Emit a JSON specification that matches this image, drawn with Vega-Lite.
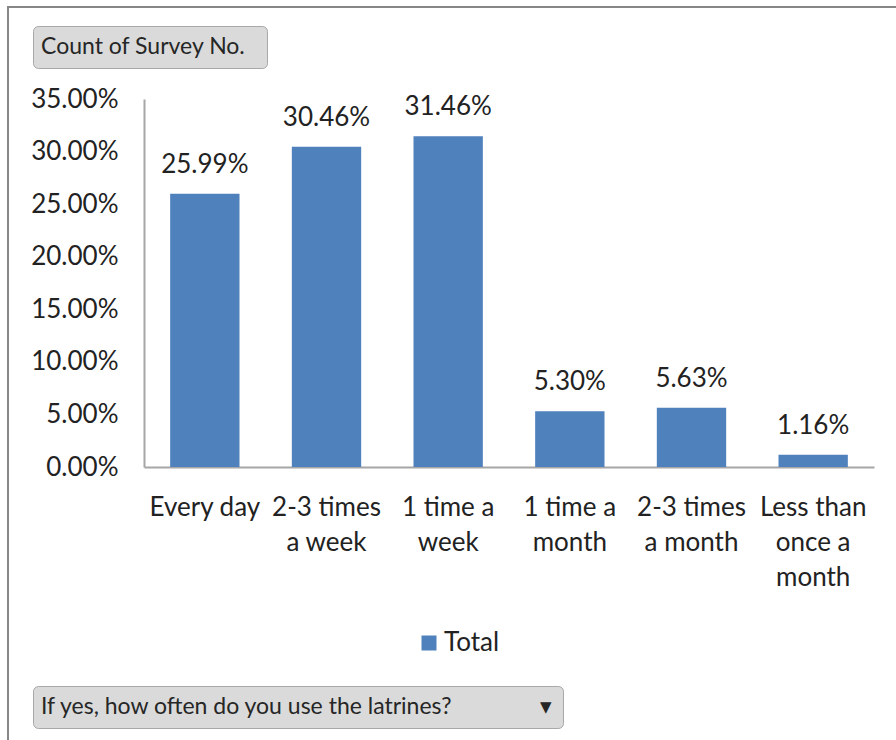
{
  "$schema": "https://vega.github.io/schema/vega-lite/v6.json",
  "width": 891,
  "height": 736,
  "autosize": {"type": "none"},
  "padding": {"left": 8, "top": 7, "right": 0, "bottom": 0},
  "background": "white",
  "config": {
    "font": "Lato",
    "view": {"stroke": "#878787", "strokeWidth": 2},
    "axis": {
      "grid": false,
      "ticks": false,
      "tickSize": 0,
      "domainColor": "#a6a6a6",
      "domainWidth": 2,
      "labelFont": "Lato",
      "labelFontSize": 26,
      "labelColor": "#222222",
      "title": null
    }
  },
  "data": {
    "values": [
      {"frequency": "Every day", "share": 0.2599},
      {"frequency": "2-3 times a week", "share": 0.3046},
      {"frequency": "1 time a week", "share": 0.3146},
      {"frequency": "1 time a month", "share": 0.0530},
      {"frequency": "2-3 times a month", "share": 0.0563},
      {"frequency": "Less than once a month", "share": 0.0116}
    ]
  },
  "encoding": {
    "x": {
      "field": "frequency",
      "type": "nominal",
      "sort": null,
      "scale": {"range": [136, 866], "paddingInner": 0.43, "paddingOuter": 0.215},
      "axis": {
        "orient": "bottom",
        "offset": -276,
        "labelAngle": 0,
        "labelPadding": 27,
        "labelLineHeight": 35,
        "labelLimit": 400,
        "labelOverlap": false,
        "labelBaseline": "top",
        "labelExpr": "datum.value == '2-3 times a week' ? ['2-3 times', 'a week'] : datum.value == '1 time a week' ? ['1 time a', 'week'] : datum.value == '1 time a month' ? ['1 time a', 'month'] : datum.value == '2-3 times a month' ? ['2-3 times', 'a month'] : datum.value == 'Less than once a month' ? ['Less than', 'once a', 'month'] : datum.value"
      }
    },
    "y": {
      "field": "share",
      "type": "quantitative",
      "scale": {"domain": [0, 0.35], "range": [460, 92], "nice": false},
      "axis": {
        "offset": -136,
        "format": ".2%",
        "values": [0, 0.05, 0.1, 0.15, 0.2, 0.25, 0.3, 0.35],
        "labelPadding": 26,
        "labelOverlap": false
      }
    }
  },
  "layer": [
    {
      "mark": {"type": "bar", "color": "#4F81BD"},
      "encoding": {
        "color": {
          "datum": "Total",
          "type": "nominal",
          "scale": {"range": ["#4F81BD"]},
          "legend": {
            "orient": "none",
            "legendX": 408,
            "legendY": 623,
            "title": null,
            "padding": 0,
            "symbolType": "square",
            "symbolSize": 225,
            "symbolStrokeWidth": 0,
            "labelOffset": 2,
            "labelFontSize": 26,
            "labelFont": "Lato",
            "labelColor": "#222222"
          }
        },
        "strokeDash": {
          "datum": "If yes, how often do you use the latrines?",
          "type": "nominal",
          "legend": {
            "orient": "none",
            "legendX": 25,
            "legendY": 679,
            "title": null,
            "padding": 9,
            "fillColor": "#dadada",
            "strokeColor": "#a8a8a8",
            "cornerRadius": 5,
            "symbolType": "square",
            "symbolSize": 1,
            "symbolOpacity": 0,
            "symbolStrokeWidth": 0,
            "labelOffset": -24,
            "labelLimit": 900,
            "labelFontSize": 23,
            "labelFont": "Lato",
            "labelColor": "#262626",
            "labelExpr": "datum.label + '\u00a0\u00a0\u00a0\u00a0\u00a0\u00a0\u00a0\u00a0\u00a0\u00a0\u00a0\u00a0\u00a0\u00a0\u00a0\u25be'"
          }
        }
      }
    },
    {
      "mark": {"type": "text", "fontSize": 26, "dy": -21, "baseline": "alphabetic", "color": "#222222"},
      "encoding": {
        "text": {"field": "share", "type": "quantitative", "format": ".2%"}
      }
    },
    {
      "mark": {"type": "point", "opacity": 0},
      "encoding": {
        "shape": {
          "datum": "Count of Survey No.",
          "type": "nominal",
          "legend": {
            "orient": "none",
            "legendX": 25,
            "legendY": 19,
            "title": null,
            "padding": 9,
            "fillColor": "#dadada",
            "strokeColor": "#a8a8a8",
            "cornerRadius": 5,
            "symbolType": "square",
            "symbolSize": 1,
            "symbolOpacity": 0,
            "symbolStrokeWidth": 0,
            "labelOffset": -24,
            "labelLimit": 900,
            "labelFontSize": 23,
            "labelFont": "Lato",
            "labelColor": "#262626",
            "labelExpr": "datum.label + '\u00a0\u00a0\u200b'"
          }
        }
      }
    }
  ]
}
